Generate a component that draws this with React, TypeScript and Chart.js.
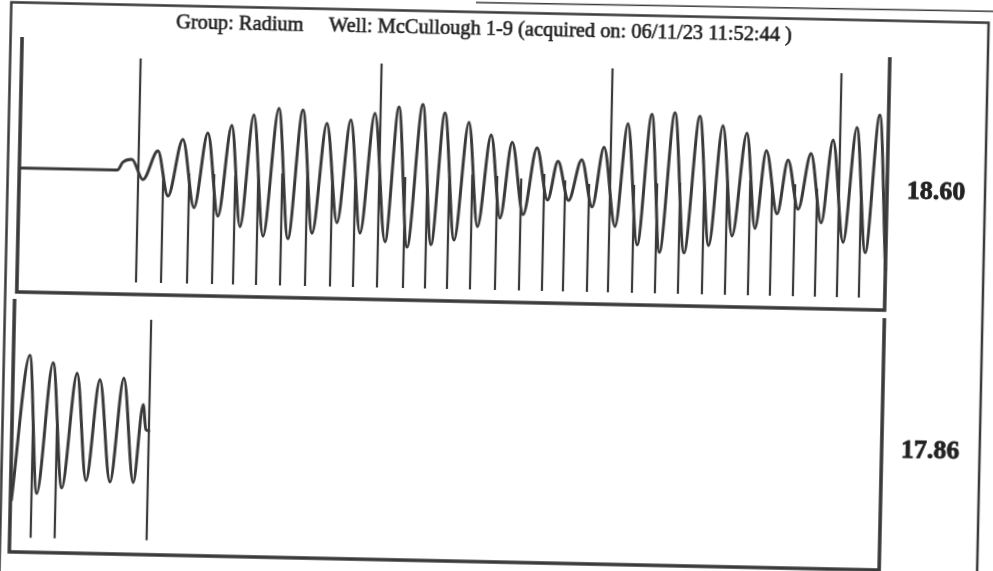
import React, { useEffect, useRef } from 'react';
import { Chart, registerables } from 'chart.js';

Chart.register(...registerables);

// ---------- text ----------
const TITLE_GROUP = 'Radium';
const TITLE_WELL = 'McCullough 1-9';
const TITLE_ACQUIRED = '06/11/23 11:52:44';
const TITLE = 'Group: ' + TITLE_GROUP + '     Well: ' + TITLE_WELL + ' (acquired on: ' + TITLE_ACQUIRED + ' )';
const PANEL_LABELS = ['18.60', '17.86'];

// ---------- top panel trace (sample index, amplitude) ----------
const topTraceX = [2, 100, 105.4, 114.3, 125.8, 140.2, 151.1, 164.9, 177.4, 189.8, 201.5, 213.6, 223.8, 235.4, 247, 260.3, 271.9, 284.4, 296, 308.6, 320.7, 332.5, 343.9, 356.4, 369.1, 380.3, 391.2, 404.2, 415.1, 426.4, 438.1, 450.6, 461.2, 473.1, 483.6, 494.2, 506.6, 519.1, 530.7, 540.4, 551.7, 564.1, 575.4, 586.1, 598.8, 609.6, 621.2, 633.4, 643.6, 656.4, 668.2, 681.4, 692.7, 704.6, 715.9, 728.8, 738.7, 748.5, 760.5, 770.4, 781.4, 793.2, 804.8, 815, 827.1, 838.6, 849.4, 861.2, 870];
const topTraceY = [124, 124, 132, 135, 115, 144, 99, 156, 88, 163, 80, 171, 70, 182, 61, 189, 59, 188, 65, 175, 76, 179, 66, 186, 58, 193, 53, 196, 56, 188, 61, 179, 75, 167, 84, 160, 88, 155, 103, 142, 103, 144, 97, 157, 78, 181, 60, 191, 53, 193, 53, 190, 61, 181, 71, 174, 79, 157, 94, 148, 99, 155, 86, 169, 67, 182, 57, 195, 40];

// marker spikes of the top panel
const topSpikeX = [121, 146, 172, 197, 218, 241, 265, 290, 315, 338, 362, 388, 410, 432, 455, 480, 504, 527, 548, 572, 593, 617, 640, 663, 687, 710, 733, 755, 778, 800, 822, 844];
const topSpikeTop = [236, 122, 122, 122, 121, 122, 124, 127, 126, 123, 236, 123, 126, 125, 127, 126, 124, 129, 123, 120, 236, 120, 122, 123, 126, 126, 127, 125, 124, 120, 236, 119];
const topSpikeFloor = 12;

// ---------- bottom panel trace ----------
const bottomTraceX = [1, 16.5, 26.1, 39.9, 51, 64.1, 75.1, 87, 99.1, 110.9, 122.4, 130.8, 134, 137];
const bottomTraceY = [52, 197, 59, 190, 65, 180, 73, 174, 72, 176, 72, 150, 125, 124];
const bottomSpikeX = [21, 45, 137];
const bottomSpikeTop = [128, 127, 235];
const bottomSpikeFloor = 14.5;

// ---------- layout / style ----------
const CW = 1013;
const CH = 611;
const OX = 10;
const OY = 20;
const TILT = 1.2;
const INK = '#3a3a3a';
const TEXT_INK = '#222222';
const X_MAX = 872;
const TOP_MAX = 255;
const BOT_MAX = 260;

function toPoints(xs: number[], ys: number[]) {
  return xs.map((x, i) => ({ x, y: ys[i] }));
}

function toSegments(xs: number[], tops: number[], floor: number) {
  const out: { x: number; y: number | null }[] = [];
  xs.forEach((x, i) => {
    out.push({ x, y: floor });
    out.push({ x, y: tops[i] });
    out.push({ x, y: null });
  });
  return out;
}

const framePlugin = {
  id: 'frameAndText',
  beforeDatasetsDraw(chart: any) {
    const { ctx } = chart;
    const sx = chart.scales.x;
    const yT = chart.scales.yTop;
    const yB = chart.scales.yBot;
    const stroke = (pts: number[][], w: number) => {
      ctx.beginPath();
      ctx.lineWidth = w;
      pts.forEach((p, i) => (i ? ctx.lineTo(p[0], p[1]) : ctx.moveTo(p[0], p[1])));
      ctx.stroke();
    };
    ctx.save();
    ctx.strokeStyle = INK;
    ctx.lineJoin = 'miter';
    ctx.lineCap = 'butt';
    // outer box
    stroke([[5.5 + OX, CH], [5.5 + OX, 12.5 + OY], [983 + OX, 12.5 + OY], [983 + OX, CH]], 2.5);
    // page edge above the box on the right half
    stroke([[470 + OX, 3 + OY], [CW, 1 + OY]], 1.6);
    // top panel frame
    stroke([
      [sx.getPixelForValue(2), yT.getPixelForValue(TOP_MAX)],
      [sx.getPixelForValue(2), yT.getPixelForValue(0)],
      [sx.getPixelForValue(870), yT.getPixelForValue(0)],
      [sx.getPixelForValue(870), yT.getPixelForValue(253)],
    ], 3.6);
    // bottom panel frame
    stroke([
      [sx.getPixelForValue(0), yB.getPixelForValue(253)],
      [sx.getPixelForValue(0), yB.getPixelForValue(0)],
      [sx.getPixelForValue(870), yB.getPixelForValue(0)],
      [sx.getPixelForValue(870), yB.getPixelForValue(252)],
    ], 3.6);
    ctx.restore();
  },
  afterDraw(chart: any) {
    const { ctx } = chart;
    ctx.save();
    ctx.fillStyle = TEXT_INK;
    ctx.strokeStyle = TEXT_INK;
    ctx.textAlign = 'center';
    ctx.textBaseline = 'alphabetic';
    ctx.font = '20.4px "Liberation Serif", "Times New Roman", serif';
    ctx.lineWidth = 0.6;
    ctx.fillText(TITLE, 478.6 + OX, 34.5 + OY);
    ctx.strokeText(TITLE, 478.6 + OX, 34.5 + OY);
    ctx.font = 'bold 26px "Liberation Serif", "Times New Roman", serif';
    ctx.textBaseline = 'middle';
    ctx.lineWidth = 0.8;
    ctx.fillText(PANEL_LABELS[0], 934 + OX, 183 + OY);
    ctx.strokeText(PANEL_LABELS[0], 934 + OX, 183 + OY);
    ctx.fillText(PANEL_LABELS[1], 933.5 + OX, 442 + OY);
    ctx.strokeText(PANEL_LABELS[1], 933.5 + OX, 442 + OY);
    ctx.restore();
  },
};

export default function App() {
  const ref = useRef<HTMLCanvasElement>(null);
  useEffect(() => {
    const canvas = ref.current;
    if (!canvas) return;
    const lineBase = { pointRadius: 0, borderColor: INK, fill: false, clip: false as any };
    const chart = new Chart(canvas, {
      type: 'line',
      data: {
        datasets: [
          { ...lineBase, label: 'top trace', data: toPoints(topTraceX, topTraceY), yAxisID: 'yTop', borderWidth: 3, cubicInterpolationMode: 'monotone', borderJoinStyle: 'round', borderCapStyle: 'round' },
          { ...lineBase, label: 'top markers', data: toSegments(topSpikeX, topSpikeTop, topSpikeFloor), yAxisID: 'yTop', borderWidth: 2.2, tension: 0, spanGaps: false },
          { ...lineBase, label: 'bottom trace', data: toPoints(bottomTraceX, bottomTraceY), yAxisID: 'yBot', borderWidth: 3, cubicInterpolationMode: 'monotone', borderJoinStyle: 'round', borderCapStyle: 'round' },
          { ...lineBase, label: 'bottom markers', data: toSegments(bottomSpikeX, bottomSpikeTop, bottomSpikeFloor), yAxisID: 'yBot', borderWidth: 2.2, tension: 0, spanGaps: false },
        ] as any,
      },
      options: {
        animation: false,
        responsive: false,
        events: [],
        layout: { padding: { left: 15 + OX, right: CW - (887 + OX), top: 47 + OY, bottom: CH - (562 + OY) } },
        scales: {
          x: { type: 'linear', min: 0, max: X_MAX, display: false },
          yTop: { type: 'linear', min: 0, max: TOP_MAX, display: false, position: 'left', stack: 'panels', stackWeight: TOP_MAX, weight: 2 } as any,
          yBot: { type: 'linear', min: 0, max: BOT_MAX, display: false, position: 'left', stack: 'panels', stackWeight: BOT_MAX, weight: 1 } as any,
        },
        plugins: { legend: { display: false }, tooltip: { enabled: false }, title: { display: false } },
      },
      plugins: [framePlugin],
    });
    return () => chart.destroy();
  }, []);
  return (
    <div style={{ position: 'fixed', left: 0, top: 0, width: 993, height: 571, overflow: 'hidden', background: '#fff' }}>
      <div style={{ position: 'absolute', left: -OX, top: -OY, width: CW, height: CH, transform: `rotate(${TILT}deg)`, transformOrigin: '50% 50%' }}>
        <canvas ref={ref} width={CW} height={CH} style={{ display: 'block', width: CW, height: CH }} />
      </div>
    </div>
  );
}
